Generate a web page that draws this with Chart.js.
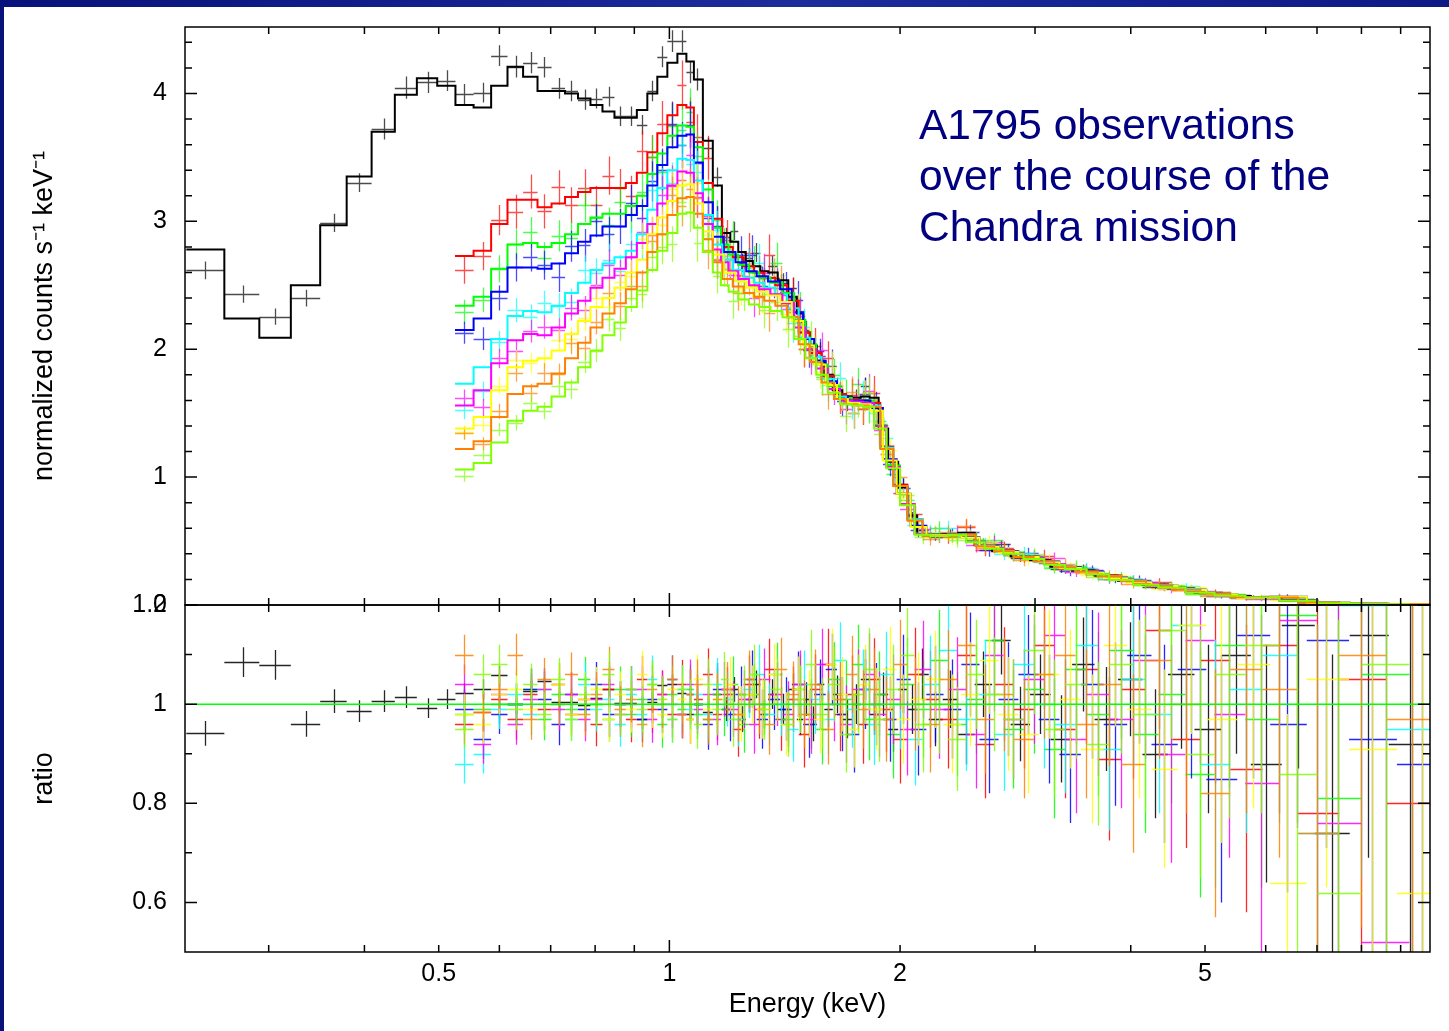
<!DOCTYPE html>
<html lang="en">
<head>
  <meta charset="UTF-8" />
  <title>A1795 spectra</title>
  <script src="https://cdn.jsdelivr.net/npm/chart.js"></script>
  <style>
    body {
      margin: 0;
      width: 1449px;
      height: 1031px;
      overflow: hidden;
      background: linear-gradient(90deg, #08127a 0%, #1b2c9c 55%, #0c1a86 100%);
      font-family: 'Liberation Sans', Arial, sans-serif;
    }
    #sheet { position: absolute; left: 4px; top: 7px; right: 0; bottom: 0; background: #fff; }
    canvas { position: absolute; left: 0; top: 0; }
    .note {
      position: absolute; left: 919px; top: 99px;
      color: #000080; font-size: 42.5px; line-height: 51px;
    }
  </style>
</head>
<body>
  <div id="sheet"></div>
  <canvas id="specChart" width="1449" height="1031"></canvas>
  <canvas id="ratioChart" width="1449" height="1031"></canvas>
  <div class="note">A1795 observations<br>over the course of the<br>Chandra mission</div>
  <script>
    // bin centres (keV)
    const blackE = [0.248, 0.278, 0.306, 0.336, 0.365, 0.394, 0.424, 0.453, 0.484, 0.512,
      0.540, 0.571, 0.600, 0.630, 0.659, 0.687, 0.717, 0.745, 0.775, 0.803,
      0.833, 0.863, 0.892, 0.922, 0.950, 0.979, 1.009, 1.040, 1.065, 1.088,
      1.124, 1.155, 1.187, 1.215, 1.245, 1.271, 1.299, 1.330, 1.362, 1.408,
      1.451, 1.482, 1.509, 1.541, 1.574, 1.612, 1.656, 1.707, 1.754, 1.801,
      1.850, 1.901, 1.959, 2.019, 2.074, 2.138, 2.223, 2.325, 2.439, 2.567,
      2.710, 2.869, 3.045, 3.245, 3.466, 3.714, 3.990, 4.301, 4.651, 5.044,
      5.485, 6.002, 6.607, 7.317, 8.152, 9.250];
    const lowE = [0.540, 0.571, 0.600, 0.630, 0.659, 0.687, 0.717, 0.745, 0.775, 0.803,
      0.833, 0.863, 0.892, 0.922, 0.950, 0.979, 1.009, 1.040, 1.065, 1.088, 1.124, 1.155];
    const hiEA = [1.19, 1.23, 1.27, 1.31, 1.35, 1.40, 1.45, 1.50, 1.55, 1.61,
      1.67, 1.73, 1.79, 1.85, 1.92, 2.00, 2.09, 2.19, 2.31, 2.44,
      2.58, 2.73, 2.90, 3.08, 3.28, 3.50, 3.75, 4.03, 4.35, 4.72,
      5.15, 5.65, 6.25, 7.00, 8.00, 9.30];
    const hiEB = [1.18, 1.21, 1.25, 1.29, 1.33, 1.38, 1.43, 1.48, 1.53, 1.58,
      1.64, 1.70, 1.76, 1.82, 1.88, 1.96, 2.04, 2.14, 2.25, 2.37,
      2.51, 2.65, 2.81, 2.99, 3.18, 3.39, 3.62, 3.88, 4.18, 4.52,
      4.92, 5.38, 5.92, 6.60, 7.45, 8.60];
    const hiEC = [1.20, 1.24, 1.28, 1.32, 1.37, 1.42, 1.47, 1.52, 1.57, 1.63,
      1.68, 1.74, 1.80, 1.86, 1.94, 2.02, 2.11, 2.22, 2.34, 2.47,
      2.61, 2.77, 2.94, 3.13, 3.33, 3.56, 3.82, 4.10, 4.42, 4.80,
      5.25, 5.78, 6.40, 7.20, 8.25, 9.60];

    // folded model (normalized counts s^-1 keV^-1)
    const blackModel = [2.78, 2.24, 2.09, 2.50, 2.97, 3.35, 3.70, 3.99, 4.12, 4.06,
      3.91, 3.89, 4.06, 4.21, 4.13, 4.02, 4.02, 4.00, 3.96, 3.91,
      3.86, 3.81, 3.81, 3.87, 4.00, 4.13, 4.24, 4.31, 4.25, 4.11,
      3.63, 3.28, 2.91, 2.84, 2.76, 2.69, 2.65, 2.61, 2.60, 2.54,
      2.41, 2.28, 2.13, 2.03, 1.91, 1.80, 1.68, 1.63, 1.62, 1.63,
      1.62, 1.38, 1.12, 0.92, 0.70, 0.555, 0.55, 0.555, 0.565, 0.47,
      0.42, 0.38, 0.35, 0.30, 0.27, 0.23, 0.19, 0.16, 0.13, 0.095,
      0.07, 0.062, 0.04, 0.018, 0.009, 0.005];
    const redModel = [2.73, 2.77, 2.98, 3.17, 3.17, 3.11, 3.14, 3.19, 3.23, 3.26,
      3.26, 3.26, 3.30, 3.38, 3.54, 3.69, 3.83, 3.91, 3.89, 3.62, 3.30, 3.02,
      2.80, 2.72, 2.65, 2.60, 2.56, 2.50, 2.38, 2.13, 1.97, 1.79,
      1.65, 1.61, 1.60, 1.58, 1.24, 0.94, 0.67, 0.55, 0.55, 0.555,
      0.47, 0.43, 0.38, 0.345, 0.30, 0.265, 0.23, 0.19, 0.155, 0.125,
      0.09, 0.062, 0.06, 0.02, 0.009, 0.005];
    const greenModel = [2.34, 2.41, 2.63, 2.82, 2.83, 2.80, 2.83, 2.90, 2.98, 3.03,
      3.06, 3.06, 3.12, 3.20, 3.37, 3.53, 3.67, 3.75, 3.74, 3.58, 3.25, 2.95,
      2.82, 2.74, 2.66, 2.60, 2.56, 2.52, 2.44, 2.23, 2.04, 1.88,
      1.71, 1.62, 1.60, 1.60, 1.41, 1.09, 0.79, 0.56, 0.55, 0.555,
      0.50, 0.45, 0.41, 0.37, 0.32, 0.285, 0.245, 0.20, 0.165, 0.14,
      0.10, 0.075, 0.058, 0.035, 0.012, 0.006];
    const blueModel = [2.15, 2.24, 2.45, 2.64, 2.64, 2.63, 2.67, 2.75, 2.84, 2.89,
      2.96, 2.96, 3.05, 3.12, 3.28, 3.44, 3.58, 3.67, 3.68, 3.46, 3.15, 2.88,
      2.76, 2.68, 2.61, 2.57, 2.53, 2.47, 2.29, 2.08, 1.91, 1.75,
      1.63, 1.60, 1.60, 1.54, 1.14, 0.87, 0.62, 0.55, 0.55, 0.53,
      0.46, 0.42, 0.38, 0.34, 0.295, 0.26, 0.215, 0.18, 0.15, 0.12,
      0.085, 0.055, 0.065, 0.016, 0.008, 0.004];
    const cyanModel = [1.73, 1.86, 2.08, 2.26, 2.30, 2.29, 2.34, 2.44, 2.52, 2.62,
      2.67, 2.72, 2.77, 2.90, 3.09, 3.26, 3.40, 3.49, 3.48, 3.32, 3.05, 2.82,
      2.70, 2.62, 2.56, 2.52, 2.48, 2.43, 2.32, 2.09, 1.94, 1.77,
      1.63, 1.59, 1.58, 1.56, 1.23, 0.93, 0.67, 0.55, 0.545, 0.55,
      0.465, 0.425, 0.38, 0.34, 0.30, 0.26, 0.225, 0.19, 0.155, 0.125,
      0.09, 0.06, 0.06, 0.02, 0.009, 0.005];
    const magentaModel = [1.56, 1.68, 1.89, 2.07, 2.12, 2.11, 2.17, 2.28, 2.38, 2.48,
      2.56, 2.63, 2.72, 2.83, 2.98, 3.14, 3.28, 3.39, 3.38, 3.22, 2.98, 2.78,
      2.68, 2.61, 2.55, 2.50, 2.47, 2.43, 2.36, 2.17, 2.00, 1.85,
      1.69, 1.60, 1.59, 1.58, 1.40, 1.08, 0.79, 0.555, 0.545, 0.55,
      0.495, 0.445, 0.405, 0.365, 0.32, 0.28, 0.24, 0.20, 0.165, 0.135,
      0.10, 0.073, 0.057, 0.034, 0.012, 0.006];
    const yellowModel = [1.38, 1.47, 1.68, 1.86, 1.91, 1.93, 1.99, 2.12, 2.22, 2.33,
      2.40, 2.48, 2.60, 2.70, 2.90, 3.03, 3.16, 3.28, 3.29, 3.14, 2.92, 2.74,
      2.60, 2.53, 2.48, 2.45, 2.42, 2.37, 2.22, 2.03, 1.88, 1.72,
      1.61, 1.58, 1.57, 1.52, 1.13, 0.87, 0.61, 0.545, 0.545, 0.525,
      0.455, 0.415, 0.375, 0.335, 0.29, 0.255, 0.21, 0.178, 0.148, 0.118,
      0.084, 0.054, 0.064, 0.016, 0.008, 0.004];
    const orangeModel = [1.22, 1.28, 1.47, 1.65, 1.71, 1.73, 1.81, 1.93, 2.05, 2.17,
      2.28, 2.36, 2.47, 2.60, 2.76, 2.90, 3.05, 3.18, 3.19, 3.06, 2.86, 2.68,
      2.55, 2.49, 2.44, 2.41, 2.38, 2.34, 2.25, 2.04, 1.90, 1.74,
      1.61, 1.57, 1.56, 1.55, 1.22, 0.93, 0.66, 0.54, 0.54, 0.55,
      0.46, 0.42, 0.375, 0.34, 0.295, 0.26, 0.225, 0.185, 0.15, 0.12,
      0.088, 0.06, 0.058, 0.019, 0.009, 0.005];
    const limeModel = [1.06, 1.11, 1.27, 1.44, 1.52, 1.55, 1.63, 1.74, 1.86, 1.99,
      2.11, 2.21, 2.33, 2.46, 2.62, 2.77, 2.91, 3.06, 3.07, 2.95, 2.76, 2.60,
      2.50, 2.45, 2.39, 2.35, 2.33, 2.30, 2.25, 2.08, 1.93, 1.80,
      1.66, 1.57, 1.56, 1.55, 1.38, 1.07, 0.78, 0.55, 0.54, 0.545,
      0.49, 0.44, 0.40, 0.36, 0.315, 0.28, 0.24, 0.195, 0.16, 0.135,
      0.098, 0.072, 0.056, 0.033, 0.011, 0.006];

    // data / model ratio
    const blackRatio = [0.941, 1.085, 1.079, 0.960, 1.006, 0.986, 1.006, 1.014, 0.992, 1.010,
      1.022, 1.030, 1.058, 1.000, 1.027, 1.046, 1.005, 1.005, 0.998, 1.013,
      1.030, 1.003, 1.003, 0.970, 1.005, 1.038, 1.040, 1.023, 0.980, 1.000,
      0.985, 1.02, 0.99, 1.03, 0.97, 1.01, 1.04, 0.98, 1.02, 0.99,
      1.03, 0.97, 1.01, 0.96, 1.04, 0.99, 1.02, 0.97, 1.00, 1.05,
      0.98, 1.02, 0.95, 1.03, 0.99, 1.06, 0.97, 1.01, 0.94, 1.04,
      1.13, 0.96, 1.02, 0.93, 1.08, 0.97, 1.05, 0.90, 1.06, 0.95,
      1.10, 0.88, 1.16, 0.74, 1.14, 0.92];
    const redRatio = [0.96, 0.985, 1.01, 0.97, 1.02, 0.99, 1.04, 0.98, 1.01, 0.96,
      1.03, 1.00, 0.97, 1.05, 0.99, 1.02, 0.98, 1.04, 0.97, 1.01, 1.06, 0.98,
      1.02, 0.95, 1.04, 0.99, 1.07, 0.97, 1.01, 0.94, 1.03, 1.08,
      0.98, 1.02, 0.96, 1.05, 0.99, 0.93, 1.06, 1.01, 0.97, 1.10,
      0.92, 1.04, 0.99, 1.12, 0.95, 1.07, 0.89, 1.03, 1.15, 0.93,
      1.09, 0.87, 1.12, 0.78, 1.05, 0.80];
    const greenRatio = [0.98, 0.99, 1.00, 1.00, 1.03, 0.97, 1.02, 0.99, 1.05, 1.00,
      0.97, 1.03, 0.98, 1.01, 1.04, 0.96, 1.02, 0.99, 1.03, 0.98, 0.97, 1.02,
      0.99, 1.04, 0.96, 1.02, 1.00, 1.06, 0.97, 1.03, 0.98, 0.95,
      1.05, 1.01, 1.08, 0.97, 1.02, 0.94, 1.04, 0.99, 1.09, 0.96,
      1.01, 1.13, 0.95, 1.03, 0.91, 1.07, 0.98, 1.11, 0.94, 1.02,
      0.86, 1.12, 0.97, 1.18, 0.81, 1.06];
    const blueRatio = [0.99, 0.93, 0.98, 1.00, 1.03, 1.01, 0.96, 1.02, 0.99, 1.04,
      0.98, 1.00, 1.03, 0.97, 1.01, 0.99, 1.05, 0.98, 1.02, 1.00, 0.96, 1.03,
      0.98, 1.02, 1.05, 0.97, 1.01, 0.99, 1.04, 0.96, 1.02, 1.07,
      0.98, 0.94, 1.03, 1.00, 0.97, 1.05, 0.95, 1.02, 0.99, 1.08,
      0.93, 1.01, 1.06, 0.97, 0.90, 1.04, 0.96, 1.10, 0.92, 1.07,
      0.85, 1.14, 0.96, 1.13, 0.93, 0.88];
    const cyanRatio = [0.88, 0.90, 0.99, 1.02, 0.98, 1.03, 1.00, 0.97, 1.04, 0.99,
      1.01, 0.96, 1.02, 0.98, 1.05, 1.00, 0.97, 1.03, 0.99, 1.02, 0.98, 1.04,
      1.01, 0.97, 1.03, 1.06, 0.98, 1.00, 0.95, 1.04, 1.01, 0.97,
      1.09, 0.99, 1.03, 0.96, 1.06, 1.00, 0.93, 1.04, 1.11, 0.97,
      1.02, 0.94, 1.08, 1.00, 0.96, 1.12, 0.91, 1.05, 0.98, 1.16,
      0.88, 1.03, 1.10, 0.74, 1.20, 0.95];
    const magentaRatio = [1.04, 0.92, 1.02, 0.96, 1.01, 1.03, 0.99, 1.02, 0.97, 1.01,
      1.04, 0.98, 1.00, 1.03, 0.97, 1.02, 1.00, 0.98, 1.04, 0.99, 1.02, 0.97,
      1.03, 0.99, 1.01, 0.96, 1.05, 1.02, 0.98, 1.04, 0.97, 1.08,
      1.00, 0.96, 1.03, 1.06, 0.98, 1.01, 0.95, 1.07, 0.99, 1.03,
      0.94, 1.10, 0.97, 1.05, 1.14, 0.93, 1.02, 0.97, 1.09, 0.90,
      1.13, 0.98, 0.84, 1.17, 0.76, 0.52];
    const yellowRatio = [0.98, 0.96, 1.02, 1.03, 0.99, 1.00, 1.04, 0.98, 1.01, 1.03,
      0.97, 1.02, 0.99, 1.06, 1.00, 0.98, 1.03, 1.01, 0.97, 1.05, 0.99, 1.01,
      1.04, 0.98, 1.02, 0.99, 1.06, 0.96, 1.03, 1.00, 0.97, 1.08,
      1.02, 0.95, 1.04, 0.99, 1.07, 0.97, 1.01, 1.05, 0.96, 1.02,
      1.09, 0.98, 0.94, 1.06, 1.01, 0.91, 1.12, 0.99, 0.87, 1.16,
      0.97, 1.08, 0.64, 1.05, 0.91, 0.62];
    const orangeRatio = [1.10, 0.985, 1.03, 1.10, 0.97, 1.05, 1.00, 1.06, 0.98, 1.02,
      1.07, 0.99, 1.01, 0.96, 1.03, 1.00, 1.05, 0.98, 1.02, 1.04, 0.97, 1.01,
      1.03, 0.98, 1.05, 1.00, 0.96, 1.07, 1.02, 0.98, 1.04, 0.95,
      1.01, 1.06, 0.99, 1.03, 0.97, 1.08, 1.00, 0.96, 1.05, 1.12,
      0.97, 1.02, 0.93, 1.06, 1.10, 0.96, 1.04, 0.88, 1.09, 1.00,
      0.82, 1.07, 1.03, 0.74, 1.10, 0.97];
    const limeRatio = [0.95, 1.06, 1.08, 0.99, 1.04, 0.98, 1.05, 0.97, 1.02, 1.00,
      1.06, 0.98, 1.03, 0.99, 1.04, 1.01, 0.97, 1.03, 1.00, 0.96, 1.04, 0.99,
      1.05, 0.97, 1.02, 1.06, 0.99, 1.03, 0.96, 1.01, 1.08, 0.98,
      1.04, 0.94, 1.02, 1.07, 0.97, 1.03, 1.10, 0.96, 1.00, 0.93,
      1.06, 1.02, 0.97, 1.11, 0.95, 1.04, 0.92, 1.08, 0.98, 1.15,
      0.90, 1.06, 1.12, 0.86, 0.62, 1.08];

    // 1-sigma error on the ratio
    const blackErr = [0.025, 0.03, 0.03, 0.026, 0.024, 0.022, 0.022, 0.022, 0.02, 0.02,
      0.02, 0.02, 0.02, 0.02, 0.02, 0.02, 0.02, 0.02, 0.02, 0.02,
      0.02, 0.02, 0.02, 0.02, 0.02, 0.02, 0.02, 0.02, 0.02, 0.021,
      0.022, 0.023, 0.024, 0.025, 0.026, 0.027, 0.028, 0.029, 0.03, 0.031,
      0.032, 0.033, 0.034, 0.035, 0.036, 0.037, 0.038, 0.039, 0.04, 0.041,
      0.042, 0.044, 0.046, 0.048, 0.05, 0.052, 0.055, 0.058, 0.062, 0.066,
      0.07, 0.075, 0.08, 0.088, 0.095, 0.105, 0.115, 0.13, 0.15, 0.17,
      0.2, 0.24, 0.29, 0.36, 0.45, 0.6];
    const colErr = [0.040, 0.040, 0.040, 0.042, 0.042, 0.043, 0.043, 0.044, 0.045, 0.045,
      0.046, 0.046, 0.047, 0.047, 0.048, 0.048, 0.048, 0.049, 0.050, 0.050, 0.052, 0.053,
      0.055, 0.056, 0.058, 0.060, 0.062, 0.064, 0.066, 0.068, 0.070, 0.072,
      0.075, 0.078, 0.080, 0.083, 0.086, 0.090, 0.094, 0.098, 0.10, 0.105,
      0.11, 0.115, 0.12, 0.13, 0.14, 0.15, 0.165, 0.18, 0.20, 0.22,
      0.25, 0.29, 0.34, 0.42, 0.55, 0.75];

    // axes
    const xRange = [0.2333, 9.83];
    const xLabelTicks = [0.5, 1, 2, 5];
    const xMinorTicks = [0.3, 0.4, 0.5, 0.6, 0.7, 0.8, 0.9, 2, 3, 4, 5, 6, 7, 8, 9];
    const xMajorTicks = [1];
    const specTicks = [0, 1, 2, 3, 4];
    const specMinor = [0.2, 0.4, 0.6, 0.8, 1.2, 1.4, 1.6, 1.8, 2.2, 2.4, 2.6, 2.8, 3.2, 3.4, 3.6, 3.8, 4.2, 4.4];
    const ratioTicks = [0.6, 0.8, 1, 1.2];
    const ratioMinor = [0.7, 0.9, 1.1];

    const gridA = lowE.concat(hiEA);
    const gridB = lowE.concat(hiEB);
    const gridC = lowE.concat(hiEC);

    const series = [
      { color: '#000000', E: blackE, model: blackModel, ratio: blackRatio, err: blackErr },
      { color: '#ff0000', E: gridA, model: redModel, ratio: redRatio, err: colErr },
      { color: '#00ff00', E: gridB, model: greenModel, ratio: greenRatio, err: colErr },
      { color: '#0000ff', E: gridC, model: blueModel, ratio: blueRatio, err: colErr },
      { color: '#00ffff', E: gridA, model: cyanModel, ratio: cyanRatio, err: colErr },
      { color: '#ff00ff', E: gridB, model: magentaModel, ratio: magentaRatio, err: colErr },
      { color: '#ffff00', E: gridC, model: yellowModel, ratio: yellowRatio, err: colErr },
      { color: '#ff8000', E: gridA, model: orangeModel, ratio: orangeRatio, err: colErr },
      { color: '#80ff00', E: gridB, model: limeModel, ratio: limeRatio, err: colErr }
    ];

    // bin edges half way (in log) between neighbouring centres
    function binEdges(E) {
      const n = E.length, ed = [];
      for (let i = 1; i < n; i++) ed[i] = Math.sqrt(E[i - 1] * E[i]);
      ed[0] = E[0] * E[0] / ed[1];
      ed[n] = E[n - 1] * E[n - 1] / ed[n - 1];
      return ed;
    }

    function histPoints(E, vals) {
      const ed = binEdges(E), pts = [];
      vals.forEach((v, i) => { pts.push({ x: ed[i], y: v }, { x: ed[i + 1], y: v }); });
      return pts;
    }

    const crossPlugin = {
      id: 'crosses',
      beforeDatasetsDraw(chart, args, opts) {
        const { ctx, chartArea: a, scales: { x, y } } = chart;
        ctx.save();
        ctx.beginPath();
        ctx.rect(a.left, a.top, a.right - a.left, a.bottom - a.top);
        ctx.clip();
        ctx.lineWidth = 1.3;
        ctx.globalAlpha = opts.alpha;
        series.forEach(s => {
          const ed = binEdges(s.E);
          ctx.strokeStyle = s.color;
          ctx.beginPath();
          s.E.forEach((e, i) => {
            const f = opts.panel === 'spec' ? s.model[i] : 1;
            const v = s.ratio[i] * f, d = s.err[i] * f;
            const px = Math.round(x.getPixelForValue(e)) + 0.5;
            const py = Math.round(y.getPixelForValue(v)) + 0.5;
            ctx.moveTo(x.getPixelForValue(ed[i]), py);
            ctx.lineTo(x.getPixelForValue(ed[i + 1]), py);
            ctx.moveTo(px, y.getPixelForValue(v - d));
            ctx.lineTo(px, y.getPixelForValue(v + d));
          });
          ctx.stroke();
        });
        ctx.restore();
      }
    };

    const framePlugin = {
      id: 'frameTicks',
      afterDraw(chart, args, opts) {
        const { ctx, chartArea: a, scales: { x, y } } = chart;
        ctx.save();
        ctx.strokeStyle = '#000';
        ctx.lineWidth = 1.5;
        ctx.strokeRect(a.left, a.top, a.right - a.left, a.bottom - a.top);
        ctx.beginPath();
        const xt = (vals, len) => vals.forEach(v => {
          const p = x.getPixelForValue(v);
          ctx.moveTo(p, a.top); ctx.lineTo(p, a.top + len);
          ctx.moveTo(p, a.bottom); ctx.lineTo(p, a.bottom - len);
        });
        const yt = (vals, len) => vals.forEach(v => {
          const p = y.getPixelForValue(v);
          ctx.moveTo(a.left, p); ctx.lineTo(a.left + len, p);
          ctx.moveTo(a.right, p); ctx.lineTo(a.right - len, p);
        });
        xt(xMinorTicks, 7);
        xt(xMajorTicks, 12);
        yt(opts.minor, 7);
        yt(opts.major, 12);
        ctx.stroke();
        ctx.restore();
      }
    };

    const fontFam = "'Liberation Sans', Arial, sans-serif";
    Chart.defaults.font.family = fontFam;
    Chart.defaults.color = '#000';

    function yAxis(min, max, tickVals, title) {
      return {
        type: 'linear', min: min, max: max,
        afterFit: s => { s.width = 185; s.paddingTop = 0; s.paddingBottom = 0; },
        afterBuildTicks: s => { s.ticks = tickVals.map(v => ({ value: v })); },
        grid: { display: false, drawTicks: false },
        border: { display: false },
        ticks: { padding: 18, color: '#000', font: { size: 25 }, callback: v => String(v) },
        title: { display: true, text: title, color: '#000', font: { size: 27 }, padding: { top: 28, bottom: 0 } }
      };
    }

    new Chart(document.getElementById('specChart'), {
      type: 'line',
      data: {
        datasets: series.map((s, k) => ({
          data: histPoints(s.E, s.model),
          borderColor: s.color,
          borderWidth: 2,
          pointRadius: 0,
          tension: 0,
          fill: false,
          order: series.length - k
        }))
      },
      options: {
        responsive: false,
        animation: false,
        events: [],
        layout: { padding: { left: 0, right: 19, top: 27, bottom: 426 } },
        plugins: {
          legend: { display: false },
          tooltip: { enabled: false },
          crosses: { panel: 'spec', alpha: 0.7 },
          frameTicks: { minor: specMinor, major: specTicks }
        },
        scales: {
          x: { type: 'logarithmic', min: xRange[0], max: xRange[1], display: false },
          y: yAxis(0, 4.52, specTicks, 'normalized counts s\u207B\u00B9 keV\u207B\u00B9')
        }
      },
      plugins: [crossPlugin, framePlugin]
    });

    new Chart(document.getElementById('ratioChart'), {
      type: 'line',
      data: {
        datasets: [{
          data: [{ x: xRange[0], y: 1 }, { x: xRange[1], y: 1 }],
          borderColor: '#00ff00',
          borderWidth: 1.5,
          pointRadius: 0
        }]
      },
      options: {
        responsive: false,
        animation: false,
        events: [],
        layout: { padding: { left: 0, right: 19, top: 605, bottom: 0 } },
        plugins: {
          legend: { display: false },
          tooltip: { enabled: false },
          crosses: { panel: 'ratio', alpha: 0.85 },
          frameTicks: { minor: ratioMinor, major: ratioTicks }
        },
        scales: {
          x: {
            type: 'logarithmic', min: xRange[0], max: xRange[1],
            afterFit: s => { s.height = 79; },
            afterBuildTicks: s => { s.ticks = xLabelTicks.map(v => ({ value: v })); },
            grid: { display: false, drawTicks: false },
            border: { display: false },
            ticks: { padding: 7, maxRotation: 0, autoSkip: false, color: '#000', font: { size: 25 }, callback: v => String(v) },
            title: { display: true, text: 'Energy (keV)', color: '#000', font: { size: 27 }, padding: { top: 0, bottom: 10 } }
          },
          y: yAxis(0.5, 1.2, ratioTicks, 'ratio')
        }
      },
      plugins: [crossPlugin, framePlugin]
    });
  </script>
</body>
</html>
